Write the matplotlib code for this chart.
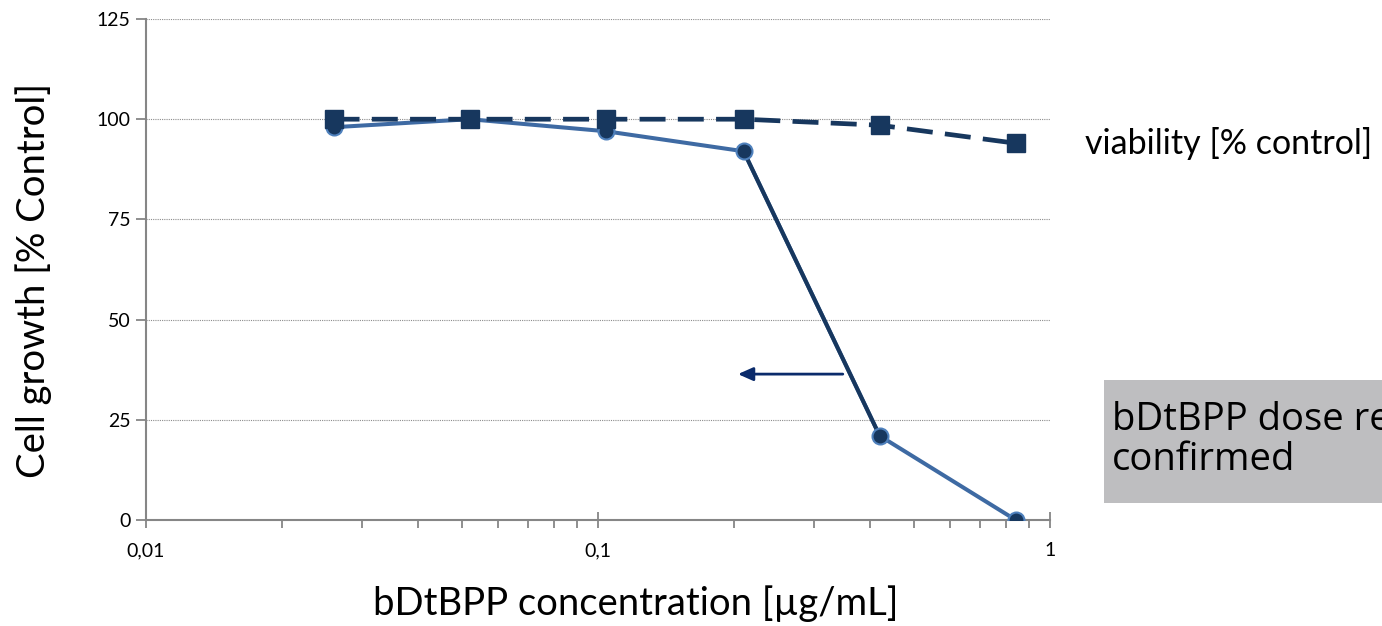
import matplotlib
matplotlib.use("Agg")
import matplotlib.pyplot as plt
from matplotlib.patches import Rectangle
from matplotlib.ticker import FixedLocator, FixedFormatter, LogLocator, NullFormatter

# Data
concentration = [0.026, 0.052, 0.104, 0.21, 0.42, 0.84]
cell_growth = [98, 100, 97, 92, 21, 0]
viability = [100, 100, 100, 100, 98.5, 94]
y_ticks = [0, 25, 50, 75, 100, 125]
x_ticks = [0.01, 0.1, 1]
x_ticklabels = ["0,01", "0,1", "1"]

plt.rcParams['font.family'] = ['Lato', 'DejaVu Sans']

W, H = 1382, 626
fig = plt.figure(figsize=(W / 100, H / 100), dpi=100)
ax = fig.add_axes([146 / W, 1 - 520 / H, (1050 - 146) / W, (520 - 19) / H])

light = '#3E6AA3'
dark = '#17375E'

# growth line (solid), steep segment darker
ax.plot(concentration, cell_growth, '-', color=light, lw=2.9, zorder=3)
ax.plot(concentration[3:5], cell_growth[3:5], '-', color=dark, lw=2.9, zorder=3.1)
ax.plot(concentration, cell_growth, 'o', ms=11.5, mfc=dark, mec='#4F81BD', mew=1.5, zorder=4)

# viability dashed with squares
ax.plot(concentration, viability, '-', color=dark, lw=3.4, dashes=(5.5, 2.6),
        marker='s', ms=12.5, mfc=dark, mec=dark, zorder=5)

ax.set_xscale('log')
ax.set_xlim(0.01, 1)
ax.set_ylim(0, 125)

ax.xaxis.set_major_locator(FixedLocator(x_ticks))
ax.xaxis.set_major_formatter(FixedFormatter(x_ticklabels))
ax.xaxis.set_minor_locator(LogLocator(base=10, subs=range(2, 10)))
ax.xaxis.set_minor_formatter(NullFormatter())
ax.set_yticks(y_ticks)

ax.grid(axis='y', which='major', color='#8C8C8C', linestyle=(0, (1, 1)), lw=0.8)
ax.set_axisbelow(True)

for s in ['top', 'right']:
    ax.spines[s].set_visible(False)
for s in ['left', 'bottom']:
    ax.spines[s].set_color('#868686')
    ax.spines[s].set_linewidth(1.5)

ax.tick_params(axis='y', which='major', direction='out', length=7, width=1.3,
               color='#868686', labelsize=14, pad=4)
ax.tick_params(axis='x', which='major', direction='inout', length=12, width=1.3,
               color='#868686', labelsize=14, pad=10)
ax.tick_params(axis='x', which='minor', direction='out', length=6, width=1.3,
               color='#868686')

ax.set_xlabel('bDtBPP concentration [µg/mL]', fontsize=27.5, va='center')
ax.xaxis.set_label_coords((635.5 - 146) / 904, (520 - 604) / 501)
ax.set_ylabel('Cell growth [% Control]', fontsize=27.5, va='center')
ax.yaxis.set_label_coords((34 - 146) / 904, (520 - 280) / 501)

# arrow
ax.annotate('', xy=(0.204, 36.4), xytext=(0.348, 36.4),
            arrowprops=dict(arrowstyle='-|>,head_length=0.9,head_width=0.4',
                            color='#0B2B6B', lw=2.0, shrinkA=0, shrinkB=0))

# right texts
fig.text(1085 / W, 1 - 143 / H, 'viability [% control]', fontsize=24.5,
         va='center', ha='left')

fig.patches.append(Rectangle((1104 / W, 1 - 503 / H), (W - 1104) / W, (503 - 380) / H,
                             transform=fig.transFigure, facecolor='#BEBEC0',
                             edgecolor='none', zorder=1))
fig.text(1112 / W, 1 - 430 / H, 'bDtBPP dose re', fontsize=27.5, family='Open Sans',
         va='baseline', ha='left', zorder=2)
fig.text(1112 / W, 1 - 470 / H, 'confirmed', fontsize=27.5, family='Open Sans',
         va='baseline', ha='left', zorder=2)

fig.savefig('out.png', dpi=100)
